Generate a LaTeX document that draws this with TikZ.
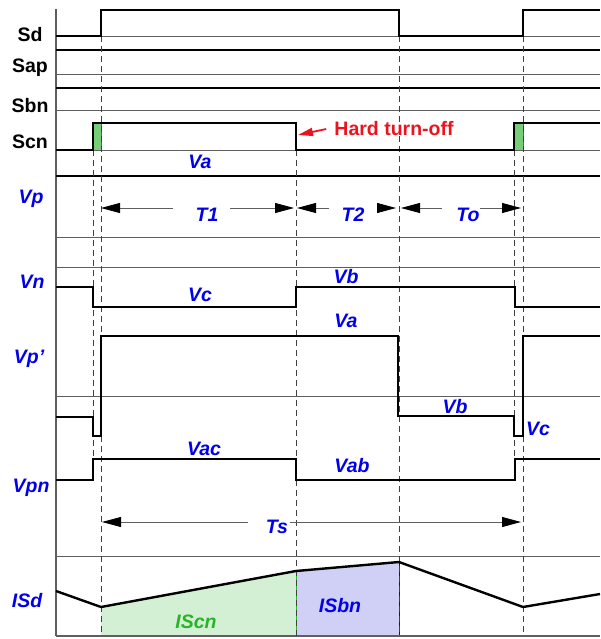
\documentclass[tikz,border=0pt]{standalone}
\usepackage{fontspec}
\setmainfont{Liberation Sans}
\usetikzlibrary{arrows.meta}
\definecolor{lblue}{RGB}{0,0,235}
\definecolor{lred}{RGB}{235,20,30}
\definecolor{lgreen}{RGB}{40,180,40}
\definecolor{fillgreen}{RGB}{212,240,212}
\definecolor{fillblue}{RGB}{208,208,246}
\definecolor{pulsegreen}{RGB}{120,205,120}
\definecolor{gridgray}{RGB}{95,95,95}
\tikzset{
  sig/.style={line width=2.8pt, black},
  gridline/.style={line width=0.8pt, gridgray},
  thickline/.style={line width=2.8pt, black},
  dashv/.style={line width=0.8pt, black!75, dash pattern=on 6pt off 4pt},
  lab/.style={font=\bfseries\fontsize{19.5}{21}\selectfont, anchor=base, inner sep=0pt},
  vlab/.style={font=\bfseries\itshape\fontsize{19.5}{21}\selectfont, anchor=base, inner sep=0pt, text=lblue},
  dimline/.style={line width=0.8pt, gridgray},
  dimtip/.style={-{Triangle[length=19pt,width=10pt,color=black]}},
  pulsefill/.style={fill=pulsegreen, draw=lgreen!80!black, line width=0.6pt},
}
\begin{document}
\begin{tikzpicture}[x=1pt,y=-1pt]
\useasboundingbox (0,0) rectangle (600,639);

% ---- fills under ISd ----
\fill[fillgreen] (101,607) -- (296,571) -- (296,636) -- (101,636) -- cycle;
\fill[fillblue] (296,571) -- (399,562) -- (399,636) -- (296,636) -- cycle;
\draw[lgreen, line width=0.8pt] (296,571) -- (296,636);
\draw[lgreen!70!black, line width=0.8pt] (101,636) -- (296,636);
\draw[blue, line width=0.8pt] (399,562) -- (399,636);
\draw[blue!60!black, line width=0.8pt] (296,636) -- (399,636);

% ---- green pulses on Scn ----
\draw[pulsefill] (93,123) rectangle (101,150);
\draw[pulsefill] (514,123) rectangle (523,150);

% ---- grid ----
\draw[gridline, line width=1.2pt] (56,9) -- (56,636);
\foreach \yy in {36,74,110,150,237,267,396,556} {
  \draw[gridline] (56,\yy) -- (600,\yy);
}
\foreach \yy in {50,88,176} {
  \draw[thickline] (56,\yy) -- (600,\yy);
}
\draw[gridline, line width=1.6pt] (56,636) -- (600,636);

% ---- dashed verticals ----
\draw[dashv] (101,36) -- (101,636);
\draw[dashv] (93,150) -- (93,480);
\draw[dashv] (296,150) -- (296,636);
\draw[dashv] (399,36) -- (399,636);
\draw[dashv] (514,150) -- (514,480);
\draw[dashv] (523,36) -- (523,636);

% ---- signals ----
\draw[sig] (56,36) -- (101,36) -- (101,10) -- (399,10) -- (399,36) -- (523,36) -- (523,10) -- (600,10);
\draw[sig] (56,150) -- (93,150) -- (93,123) -- (296,123) -- (296,150) -- (514,150) -- (514,123) -- (600,123);
\draw[sig] (56,287) -- (93,287) -- (93,307) -- (296,307) -- (296,287) -- (515,287) -- (515,307) -- (600,307);
\draw[sig] (56,417) -- (93,417) -- (93,436) -- (101,436) -- (101,336) -- (398,336) -- (398,416) -- (514,416) -- (514,436) -- (523,436) -- (523,336) -- (600,336);
\draw[sig] (56,480) -- (93,480) -- (93,459) -- (296,459) -- (296,480) -- (515,480) -- (515,459) -- (600,459);
\draw[sig, line width=2.4pt] (56,591) -- (101,607) -- (296,571) -- (399,562) -- (523,607) -- (600,594);

% ---- row labels ----
\node[lab] (lSd)  at (30,42)  {Sd};
\node[lab] (lSap) at (30,73)  {Sap};
\node[lab] (lSbn) at (30,113) {Sbn};
\node[lab] (lScn) at (30,149) {Scn};
\node[vlab] (lVp)  at (31,203) {Vp};
\node[vlab] (lVn)  at (32,288) {Vn};
\node[vlab] (lVpp) at (29,363) {Vp’};
\node[vlab] (lVpn) at (31,492) {Vpn};
\node[vlab] (lISd) at (27,607) {ISd};

% ---- level labels ----
\node[vlab] (va1) at (200,168) {Va};
\node[vlab] (vc1) at (200,301) {Vc};
\node[vlab] (vb1) at (346,283) {Vb};
\node[vlab] (va2) at (346,327) {Va};
\node[vlab] (vb2) at (455,413) {Vb};
\node[vlab] (vc2) at (538,435) {Vc};
\node[vlab] (vac) at (204,455) {Vac};
\node[vlab] (vab) at (352,472) {Vab};
\node[vlab, text=lgreen] (iscn) at (196,628) {IScn};
\node[vlab] (isbn) at (340,612) {ISbn};

% ---- time intervals ----
\node[vlab] (t1) at (207,221) {T1};
\node[vlab] (t2) at (353,221) {T2};
\node[vlab] (to) at (468,221) {To};
\node[vlab] (ts) at (277,533) {Ts};

\coordinate (t1a) at (101,208); \coordinate (t1b) at (173,208);
\coordinate (t1c) at (230,208); \coordinate (t1d) at (294,208);
\coordinate (t2a) at (297,208); \coordinate (t2b) at (329,208);
\coordinate (t2c) at (377,208); \coordinate (t2d) at (396,208);
\coordinate (toa) at (401,208); \coordinate (tob) at (442,208);
\coordinate (toc) at (480,208); \coordinate (tod) at (521,208);
\coordinate (tsa) at (102,522); \coordinate (tsb) at (248,522);
\coordinate (tsc) at (290,522); \coordinate (tsd) at (521,522);

\draw[dimline, dimtip] (t1b) -- (t1a);
\draw[dimline, dimtip] (t1c) -- (t1d);
\draw[dimline, dimtip] (t2b) -- (t2a);
\draw[dimline, dimtip] (t2c) -- (t2d);
\draw[dimline, dimtip] (tob) -- (toa);
\draw[dimline, dimtip] (toc) -- (tod);
\draw[dimline, dimtip] (tsb) -- (tsa);
\draw[dimline, dimtip] (tsc) -- (tsd);

% ---- hard turn-off ----
\node[lab, text=lred] (hard) at (394,136) {Hard turn-off};
\coordinate (hardtip) at (298,135);
\draw[lred, line width=1.8pt, -{Triangle[length=15pt,width=8pt]}] ([xshift=-8pt]hard.west) -- (hardtip);
\end{tikzpicture}
\end{document}
